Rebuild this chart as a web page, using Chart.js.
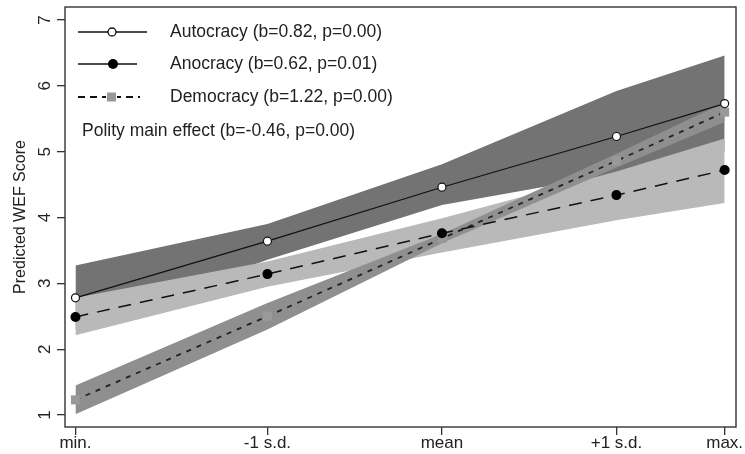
<!DOCTYPE html>
<html><head><meta charset="utf-8">
<script src="https://cdn.jsdelivr.net/npm/chart.js@4.4.0/dist/chart.umd.min.js"></script>
<style>html,body{margin:0;padding:0;background:#fff;}#wrap{width:745px;height:454px;position:relative;}</style>
</head><body><div id="wrap"><canvas id="c" width="745" height="454"></canvas></div>
<script>
// Categories (positions in s.d. units from the mean) and tick labels
const xPositions = [-2.10, -1, 0, 1, 1.62];
const xLabels = ['min.', '-1 s.d.', 'mean', '+1 s.d.', 'max.'];
const yTicks = [1, 2, 3, 4, 5, 6, 7];

// Series values (predictions and confidence band limits)
const autocracy = [2.78, 3.64, 4.46, 5.23, 5.73];
const autoUpper = [3.27, 3.90, 4.81, 5.92, 6.46];
const autoLower = [2.29, 3.36, 4.19, 4.66, 5.00];

const anocracy = [2.49, 3.14, 3.76, 4.34, 4.72];
const anoUpper = [2.78, 3.33, 3.99, 4.70, 5.20];
const anoLower = [2.21, 2.95, 3.47, 3.96, 4.22];

const democracy = [1.23, 2.50, 3.68, 4.86, 5.60];
const demUpper = [1.45, 2.70, 3.75, 4.97, 5.75];
const demLower = [1.01, 2.30, 3.61, 4.76, 5.45];

const legendLabels = ['Autocracy (b=0.82, p=0.00)', 'Anocracy (b=0.62, p=0.01)', 'Democracy (b=1.22, p=0.00)'];
const noteText = 'Polity main effect (b=-0.46, p=0.00)';

const FONT = '"Liberation Sans", Arial, sans-serif';
const TXT = '#222';
const DARK = '#737373', MID = '#8f8f8f', LIGHT = '#b9b9b9';

function pts(ys) { return ys.map((y, i) => ({ x: xPositions[i], y })); }
function band(data, fill, color, order) {
  return { data: pts(data), fill: fill, backgroundColor: color, borderColor: 'rgba(0,0,0,0)',
    borderWidth: 0.01, pointRadius: 0, order: order, tension: 0 };
}

const framePlugin = {
  id: 'frame',
  afterDraw(chart) {
    const { ctx, chartArea: a } = chart;
    ctx.save();
    ctx.strokeStyle = '#333';
    ctx.lineWidth = 1.4;
    ctx.strokeRect(a.left, a.top, a.right - a.left, a.bottom - a.top);
    ctx.restore();
  }
};

const legendPlugin = {
  id: 'insideLegend',
  afterDraw(chart) {
    const ctx = chart.ctx;
    ctx.save();
    ctx.strokeStyle = '#111';
    // Autocracy
    let y = 32;
    ctx.lineWidth = 1.3; ctx.setLineDash([]);
    ctx.beginPath(); ctx.moveTo(78, y); ctx.lineTo(147, y); ctx.stroke();
    ctx.beginPath(); ctx.arc(112, y, 4, 0, Math.PI * 2); ctx.fillStyle = '#fff'; ctx.fill(); ctx.stroke();
    // Anocracy
    y = 64;
    ctx.lineWidth = 1.5;
    ctx.beginPath(); ctx.moveTo(78, y); ctx.lineTo(137, y); ctx.stroke();
    ctx.beginPath(); ctx.arc(113, y, 5, 0, Math.PI * 2); ctx.fillStyle = '#000'; ctx.fill();
    // Democracy
    y = 97;
    ctx.lineWidth = 1.8; ctx.setLineDash([7, 5]);
    ctx.beginPath(); ctx.moveTo(78, y); ctx.lineTo(140, y); ctx.stroke();
    ctx.setLineDash([]);
    ctx.fillStyle = '#fff'; ctx.fillRect(106, y - 5, 11, 10);
    ctx.fillStyle = '#999'; ctx.fillRect(107, y - 4.5, 9, 9);
    // Text
    ctx.fillStyle = TXT;
    ctx.font = '17.5px ' + FONT;
    ctx.textBaseline = 'middle';
    ctx.fillText(legendLabels[0], 170, 32);
    ctx.fillText(legendLabels[1], 170, 64);
    ctx.fillText(legendLabels[2], 170, 97);
    ctx.fillText(noteText, 82, 131);
    ctx.restore();
  }
};

new Chart(document.getElementById('c'), {
  type: 'line',
  data: {
    datasets: [
      band(autoUpper, '+1', DARK, 10),
      band(autoLower, false, DARK, 10),
      band(anoUpper, '+1', LIGHT, 9),
      band(anoLower, false, LIGHT, 9),
      band(demUpper, '+1', MID, 8),
      band(demLower, false, MID, 8),
      { label: legendLabels[2], data: pts(democracy), fill: false, borderColor: '#222', borderWidth: 1.8,
        borderDash: [5, 6], pointStyle: 'rect', pointRadius: 6.4, pointBackgroundColor: '#999',
        pointBorderWidth: 0, order: 3 },
      { label: legendLabels[1], data: pts(anocracy), fill: false, borderColor: '#111', borderWidth: 1.5,
        borderDash: [13, 9], pointStyle: 'circle', pointRadius: 5, pointBackgroundColor: '#000',
        pointBorderWidth: 0, order: 2 },
      { label: legendLabels[0], data: pts(autocracy), fill: false, borderColor: '#111', borderWidth: 1.2,
        pointStyle: 'circle', pointRadius: 4, pointBackgroundColor: '#fff', pointBorderColor: '#111',
        pointBorderWidth: 1.2, order: 1 }
    ]
  },
  options: {
    responsive: false,
    animation: false,
    devicePixelRatio: 1,
    layout: { padding: { left: 0, top: 7, right: 9, bottom: 0 } },
    plugins: { legend: { display: false }, tooltip: { enabled: false } },
    elements: { line: { tension: 0 } },
    scales: {
      x: {
        type: 'linear', min: -2.16, max: 1.685,
        afterBuildTicks: s => { s.ticks = xPositions.map(v => ({ value: v })); },
        afterFit: s => { s.height = 27; s.paddingLeft = 0; s.paddingRight = 0; },
        ticks: { autoSkip: false, maxRotation: 0, minRotation: 0, padding: -2, color: TXT,
          font: { family: FONT, size: 17 }, callback: (v, i) => xLabels[i] },
        grid: { drawOnChartArea: false, drawTicks: true, tickLength: 8, color: '#333', lineWidth: 1.3 },
        border: { display: false }
      },
      y: {
        type: 'linear', min: 0.818, max: 7.197,
        afterBuildTicks: s => { s.ticks = yTicks.map(v => ({ value: v })); },
        afterFit: s => { s.width = 65; s.paddingTop = 0; s.paddingBottom = 0; },
        ticks: { minRotation: 90, maxRotation: 90, crossAlign: 'center', padding: 7, color: TXT,
          font: { family: FONT, size: 17 }, callback: v => String(v) },
        grid: { drawOnChartArea: false, drawTicks: true, tickLength: 8, color: '#333', lineWidth: 1.3 },
        border: { display: false },
        title: { display: true, text: 'Predicted WEF Score', color: TXT,
          font: { family: FONT, size: 16 }, padding: { top: 11, bottom: 0 } }
      }
    }
  },
  plugins: [framePlugin, legendPlugin]
});
</script></body></html>
